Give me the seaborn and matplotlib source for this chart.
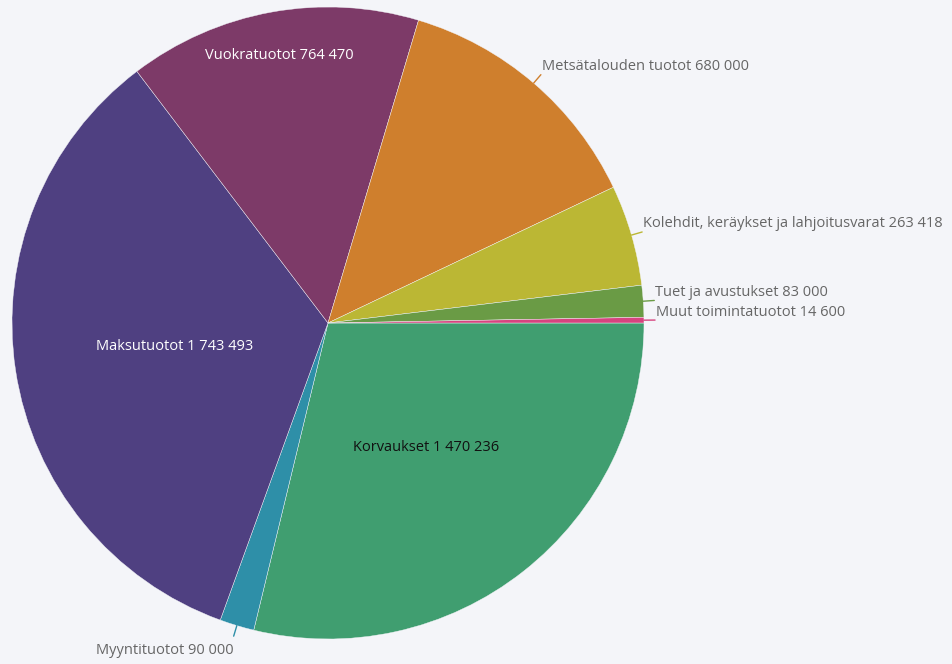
import numpy as np
import matplotlib
matplotlib.use('Agg')
import matplotlib.pyplot as plt
import seaborn as sns

labels = ['Korvaukset', 'Myyntituotot', 'Maksutuotot', 'Vuokratuotot',
          'Metsätalouden tuotot', 'Kolehdit, keräykset ja lahjoitusvarat',
          'Tuet ja avustukset', 'Muut toimintatuotot']
values = [1470236, 90000, 1743493, 764470, 680000, 263418, 83000, 14600]
colors = ['#409e70', '#2e8fa8', '#4f4081', '#7d3a68',
          '#cf7f2d', '#bbb734', '#6a9b45', '#d6447f']

# label placement: inside (radius fraction) or outside
inside = {'Korvaukset': 0.5, 'Maksutuotot': 0.49, 'Vuokratuotot': 0.86}
inside_color = {'Korvaukset': '#111111', 'Maksutuotot': 'white', 'Vuokratuotot': 'white'}

bg = '#f4f5f9'
sns.set_theme(style='white')
plt.rcParams['font.family'] = ['Open Sans', 'DejaVu Sans']

W, H = 952, 664
fig = plt.figure(figsize=(W / 100, H / 100), dpi=100, facecolor=bg)
ax = fig.add_axes([0, 0, 1, 1])
ax.set_facecolor(bg)

cx, cy, r = 328, H - 323, 316
wedges, _ = ax.pie(values, colors=colors, startangle=0, counterclock=False,
                   center=(cx, cy), radius=r, frame=True,
                   wedgeprops=dict(edgecolor=bg, linewidth=0.3))
ax.set_xlim(0, W)
ax.set_ylim(0, H)
ax.axis('off')

def fmt(v):
    return f'{v:,}'.replace(',', ' ')

fs = 10.5
for w, lab, val, col in zip(wedges, labels, values, colors):
    mid = np.deg2rad((w.theta1 + w.theta2) / 2)
    dx, dy = np.cos(mid), np.sin(mid)
    txt = f'{lab} {fmt(val)}'
    if lab in inside:
        f = inside[lab]
        ax.text(cx + dx * r * f, cy + dy * r * f, txt, ha='center', va='center',
                fontsize=fs, color=inside_color[lab])
        continue
    x0, y0 = cx + dx * r, cy + dy * r
    x1, y1 = cx + dx * r * 1.035, cy + dy * r * 1.035
    ax.plot([x0, x1], [y0, y1], color=col, lw=1)
    if dx < 0:
        ax.text(x1, y1 - 14, txt, ha='right', va='center', fontsize=fs, color='#666666')
    else:
        ax.text(x1 + 1, y1 + 8, txt, ha='left', va='center', fontsize=fs, color='#666666')

fig.savefig('out.png', dpi=100, facecolor=bg)
